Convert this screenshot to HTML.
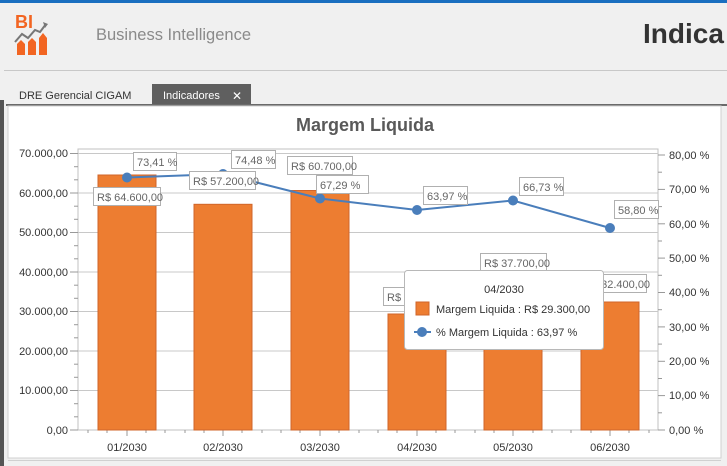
<!DOCTYPE html>
<html><head><meta charset="utf-8"><style>
html,body{margin:0;padding:0;width:727px;height:466px;overflow:hidden;background:#f0f0f0;font-family:"Liberation Sans",sans-serif}
</style></head><body>
<svg width="727" height="466" xmlns="http://www.w3.org/2000/svg" font-family="Liberation Sans, sans-serif">
<rect x="0" y="0" width="727" height="466" fill="#f0f0f0"/>
<rect x="0" y="0" width="727" height="3" fill="#1a6fc0"/>
<text x="15" y="28" font-size="18" font-weight="bold" fill="#f26522">BI</text>
<polyline points="15,42 22,34 28,38 35,30 40,32 46,24" fill="none" stroke="#777" stroke-width="2"/>
<polygon points="43,22 48,24 45,28" fill="#777"/>
<path d="M17,55 V44 L21,40 L25,44 V55Z M28,55 V42 L32,38 L36,42 V55Z M39,55 V38 L43,33 L47,38 V55Z" fill="#f26522"/>
<text x="96" y="40" font-size="16.5" fill="#8a8a8a">Business Intelligence</text>
<text x="643" y="43" font-size="28" font-weight="bold" fill="#333">Indica</text>
<rect x="4" y="70" width="723" height="1" fill="#c8c8c8"/>
<text x="19" y="99" font-size="11" fill="#333">DRE Gerencial CIGAM</text>
<rect x="152" y="84" width="99" height="21" fill="#5f5f5f"/>
<text x="163" y="99" font-size="11" fill="#fff">Indicadores</text>
<text x="232" y="100" font-size="12" fill="#fff">✕</text>
<rect x="0" y="100" width="4" height="366" fill="#555"/>
<rect x="6" y="104" width="721" height="2" fill="#6a6a6a"/>
<rect x="8" y="106" width="713" height="352" fill="#fff" stroke="#d0d0d0"/>
<rect x="8" y="460" width="713" height="1" fill="#d0d0d0"/>
<text x="365" y="131" font-size="18" font-weight="bold" fill="#595959" text-anchor="middle">Margem Liquida</text>
<rect x="78" y="149" width="580" height="281" fill="none" stroke="#c0c0c0"/>
<g stroke="#c8c8c8">
<line x1="78" y1="153.5" x2="658" y2="153.5"/>
<line x1="78" y1="193" x2="658" y2="193"/>
<line x1="78" y1="232.5" x2="658" y2="232.5"/>
<line x1="78" y1="272" x2="658" y2="272"/>
<line x1="78" y1="311.5" x2="658" y2="311.5"/>
<line x1="78" y1="351" x2="658" y2="351"/>
<line x1="78" y1="390.5" x2="658" y2="390.5"/>
</g>
<g font-size="11" fill="#333" text-anchor="end">
<text x="68" y="157">70.000,00</text><text x="68" y="197">60.000,00</text><text x="68" y="236">50.000,00</text><text x="68" y="276">40.000,00</text><text x="68" y="315">30.000,00</text><text x="68" y="355">20.000,00</text><text x="68" y="394">10.000,00</text><text x="68" y="434">0,00</text>
</g>
<g stroke="#999"><line x1="70" y1="153.5" x2="78" y2="153.5"/><line x1="70" y1="193" x2="78" y2="193"/><line x1="70" y1="232.5" x2="78" y2="232.5"/><line x1="70" y1="272" x2="78" y2="272"/><line x1="70" y1="311.5" x2="78" y2="311.5"/><line x1="70" y1="351" x2="78" y2="351"/><line x1="70" y1="390.5" x2="78" y2="390.5"/><line x1="70" y1="430" x2="78" y2="430"/>
<line x1="74" y1="166.7" x2="78" y2="166.7"/><line x1="74" y1="179.8" x2="78" y2="179.8"/><line x1="74" y1="206.2" x2="78" y2="206.2"/><line x1="74" y1="219.3" x2="78" y2="219.3"/><line x1="74" y1="245.7" x2="78" y2="245.7"/><line x1="74" y1="258.8" x2="78" y2="258.8"/><line x1="74" y1="285.2" x2="78" y2="285.2"/><line x1="74" y1="298.3" x2="78" y2="298.3"/><line x1="74" y1="324.7" x2="78" y2="324.7"/><line x1="74" y1="337.8" x2="78" y2="337.8"/><line x1="74" y1="364.2" x2="78" y2="364.2"/><line x1="74" y1="377.3" x2="78" y2="377.3"/><line x1="74" y1="403.7" x2="78" y2="403.7"/><line x1="74" y1="416.8" x2="78" y2="416.8"/>
<line x1="658" y1="155" x2="665" y2="155"/><line x1="658" y1="189.4" x2="665" y2="189.4"/><line x1="658" y1="223.8" x2="665" y2="223.8"/><line x1="658" y1="258.1" x2="665" y2="258.1"/><line x1="658" y1="292.5" x2="665" y2="292.5"/><line x1="658" y1="326.9" x2="665" y2="326.9"/><line x1="658" y1="361.3" x2="665" y2="361.3"/><line x1="658" y1="395.6" x2="665" y2="395.6"/><line x1="658" y1="430" x2="665" y2="430"/>
<line x1="658" y1="172.2" x2="662" y2="172.2"/><line x1="658" y1="206.6" x2="662" y2="206.6"/><line x1="658" y1="241" x2="662" y2="241"/><line x1="658" y1="275.3" x2="662" y2="275.3"/><line x1="658" y1="309.7" x2="662" y2="309.7"/><line x1="658" y1="344.1" x2="662" y2="344.1"/><line x1="658" y1="378.5" x2="662" y2="378.5"/><line x1="658" y1="412.8" x2="662" y2="412.8"/>
<line x1="127" y1="430" x2="127" y2="436"/><line x1="223" y1="430" x2="223" y2="436"/><line x1="320" y1="430" x2="320" y2="436"/><line x1="417" y1="430" x2="417" y2="436"/><line x1="513" y1="430" x2="513" y2="436"/><line x1="610" y1="430" x2="610" y2="436"/>
<line x1="88" y1="430" x2="88" y2="433"/><line x1="107" y1="430" x2="107" y2="433"/><line x1="146" y1="430" x2="146" y2="433"/><line x1="165" y1="430" x2="165" y2="433"/><line x1="185" y1="430" x2="185" y2="433"/><line x1="204" y1="430" x2="204" y2="433"/><line x1="242" y1="430" x2="242" y2="433"/><line x1="262" y1="430" x2="262" y2="433"/><line x1="281" y1="430" x2="281" y2="433"/><line x1="300" y1="430" x2="300" y2="433"/><line x1="339" y1="430" x2="339" y2="433"/><line x1="359" y1="430" x2="359" y2="433"/><line x1="378" y1="430" x2="378" y2="433"/><line x1="397" y1="430" x2="397" y2="433"/><line x1="436" y1="430" x2="436" y2="433"/><line x1="455" y1="430" x2="455" y2="433"/><line x1="475" y1="430" x2="475" y2="433"/><line x1="494" y1="430" x2="494" y2="433"/><line x1="533" y1="430" x2="533" y2="433"/><line x1="552" y1="430" x2="552" y2="433"/><line x1="571" y1="430" x2="571" y2="433"/><line x1="591" y1="430" x2="591" y2="433"/><line x1="629" y1="430" x2="629" y2="433"/><line x1="649" y1="430" x2="649" y2="433"/>
</g>
<g font-size="11" fill="#333">
<text x="669" y="159">80,00 %</text><text x="669" y="193">70,00 %</text><text x="669" y="228">60,00 %</text><text x="669" y="262">50,00 %</text><text x="669" y="296">40,00 %</text><text x="669" y="331">30,00 %</text><text x="669" y="365">20,00 %</text><text x="669" y="399">10,00 %</text><text x="669" y="434">0,00 %</text>
</g>
<g font-size="11" fill="#333" text-anchor="middle">
<text x="127" y="451">01/2030</text><text x="223" y="451">02/2030</text><text x="320" y="451">03/2030</text><text x="417" y="451">04/2030</text><text x="513" y="451">05/2030</text><text x="610" y="451">06/2030</text>
</g>
<g fill="#ed7d31" stroke="#d0652a">
<rect x="98" y="175" width="58" height="255"/>
<rect x="194" y="204.3" width="58" height="225.7"/>
<rect x="291" y="190.5" width="58" height="239.5"/>
<rect x="388" y="314" width="58" height="116"/>
<rect x="484" y="281" width="58" height="149"/>
<rect x="581" y="302" width="58" height="128"/>
</g>
<polyline points="127,177.5 223,174 320,198.5 417,210 513,200.5 610,228" fill="none" stroke="#4a7ebb" stroke-width="2"/>
<g fill="#4a7ebb"><circle cx="127" cy="177.5" r="5"/><circle cx="223" cy="174" r="5"/><circle cx="320" cy="198.5" r="5"/><circle cx="417" cy="210" r="5"/><circle cx="513" cy="200.5" r="5"/><circle cx="610" cy="228" r="5"/></g>
<g font-size="11" fill="#666">
<g fill="#fff" stroke="#b0b0b0">
<rect x="93.5" y="187.5" width="67" height="18"/>
<rect x="133.5" y="152.5" width="43" height="18"/>
<rect x="189.5" y="171.5" width="66" height="18"/>
<rect x="231.5" y="150.5" width="44" height="18"/>
<rect x="287.5" y="156.5" width="65" height="18"/>
<rect x="316.5" y="175.5" width="52" height="18"/>
<rect x="383.5" y="287.5" width="60" height="18"/>
<rect x="423.5" y="186.5" width="44" height="18"/>
<rect x="480.5" y="253.5" width="66" height="18"/>
<rect x="519.5" y="177.5" width="44" height="18"/>
<rect x="614.5" y="200.5" width="44" height="18"/>
<rect x="580.5" y="274.5" width="66" height="18"/>
</g>
<text x="97" y="201">R$ 64.600,00</text>
<text x="137" y="166">73,41 %</text>
<text x="193" y="185">R$ 57.200,00</text>
<text x="235" y="164">74,48 %</text>
<text x="291" y="170">R$ 60.700,00</text>
<text x="320" y="189">67,29 %</text>
<text x="387" y="301">R$ 29.300,00</text>
<text x="427" y="200">63,97 %</text>
<text x="484" y="267">R$ 37.700,00</text>
<text x="523" y="191">66,73 %</text>
<text x="618" y="214">58,80 %</text>
<text x="584" y="288">R$ 32.400,00</text>
</g>
<rect x="404.5" y="270.5" width="199" height="79" rx="3" fill="#fff" stroke="#b8b8b8"/>
<text x="504" y="293" font-size="11" fill="#333" text-anchor="middle">04/2030</text>
<rect x="416" y="302" width="13" height="13" fill="#ed7d31" stroke="#d0652a"/>
<text x="436" y="313" font-size="11" fill="#333">Margem Liquida : R$ 29.300,00</text>
<line x1="414" y1="332" x2="431" y2="332" stroke="#4a7ebb" stroke-width="2"/>
<circle cx="422" cy="332" r="5" fill="#4a7ebb"/>
<text x="436" y="336" font-size="11" fill="#333">% Margem Liquida : 63,97 %</text>
</svg>
</body></html>
